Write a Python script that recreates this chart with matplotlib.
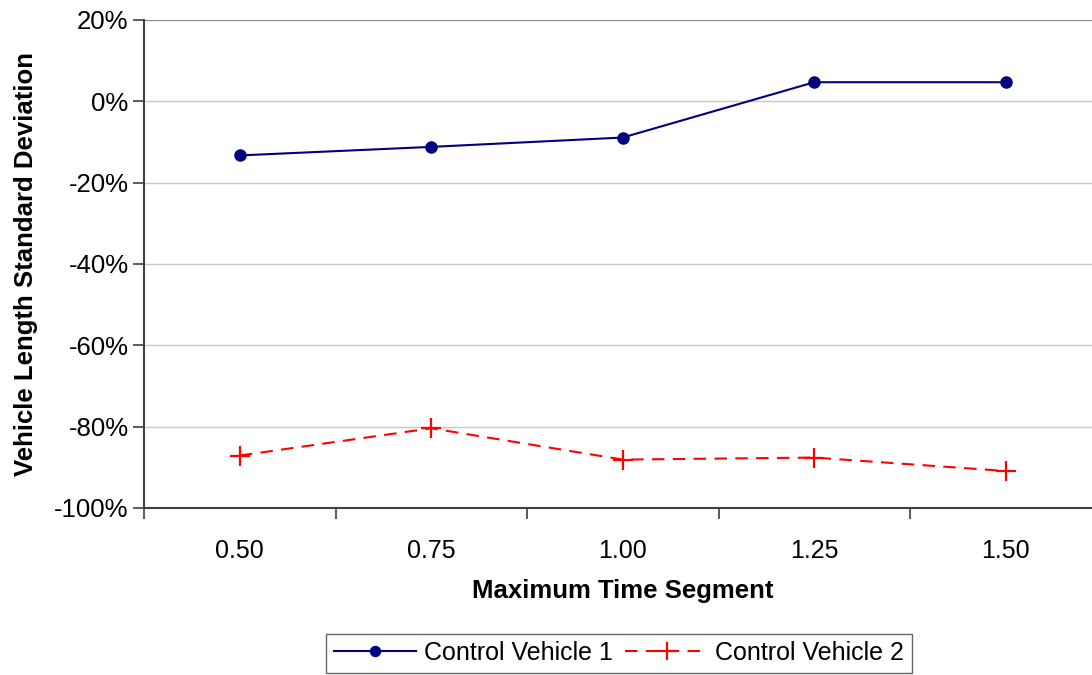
import matplotlib.pyplot as plt
from matplotlib.ticker import FuncFormatter

# categories on the x axis
segments = ["0.50", "0.75", "1.00", "1.25", "1.50"]

# values, in percent
vehicle1 = [-13.3, -11.2, -8.9, 4.7, 4.7]
vehicle2 = [-87.1, -80.4, -88.1, -87.6, -90.9]

plt.rcParams['font.family'] = ['Liberation Sans', 'DejaVu Sans']

fig = plt.figure(figsize=(10.92, 6.75), dpi=100)
ax = fig.add_axes([144 / 1092, 1 - 508 / 675, 957.5 / 1092, 488 / 675])

x = list(range(len(segments)))
ax.plot(x, vehicle1, color='#000080', lw=1.5, marker='o', ms=8,
        label='Control Vehicle 1', zorder=3)
ax.plot(x, vehicle2, color='#ff0000', lw=1.5, ls=(0, (6, 4)), marker='+',
        ms=15, mew=1.6, label='Control Vehicle 2', zorder=3)

ax.set_xlim(-0.5, len(segments) - 0.5)
ax.set_ylim(-100, 20)
ax.set_yticks(range(-100, 21, 20))
ax.yaxis.set_major_formatter(FuncFormatter(lambda v, p: f"{v:.0f}%"))
ax.set_xticks(x)
ax.set_xticklabels(segments)
ax.set_xticks([i - 0.5 for i in range(len(segments))], minor=True)
ax.tick_params(axis='x', which='major', length=0, pad=22, labelsize=18)
ax.tick_params(axis='x', which='minor', length=8, width=1.2, color='#404040')
ax.tick_params(axis='y', length=8, width=1.2, color='#404040', labelsize=18.5, pad=3)

ax.grid(axis='y', color='#c8c8c8', lw=1)
ax.axhline(20, color='#888888', lw=1.5, zorder=2)
for side in ['top', 'right']:
    ax.spines[side].set_visible(False)
for side in ['left', 'bottom']:
    ax.spines[side].set_color('#404040')
    ax.spines[side].set_linewidth(1.5)

ax.set_xlabel('Maximum Time Segment', fontsize=18.5, fontweight='bold', labelpad=12)
ax.set_ylabel('Vehicle Length Standard Deviation', fontsize=18.5, fontweight='bold', labelpad=12)

leg = fig.legend(loc='center', bbox_to_anchor=(619 / 1092, 1 - 653 / 675), ncol=2,
                 fontsize=18, frameon=True, fancybox=False, edgecolor='#404040',
                 handlelength=3.3, columnspacing=0.5, handletextpad=0.3,
                 borderpad=0.3, markerscale=0.9)
leg.get_frame().set_linewidth(1)

fig.savefig('out.png', dpi=100)
